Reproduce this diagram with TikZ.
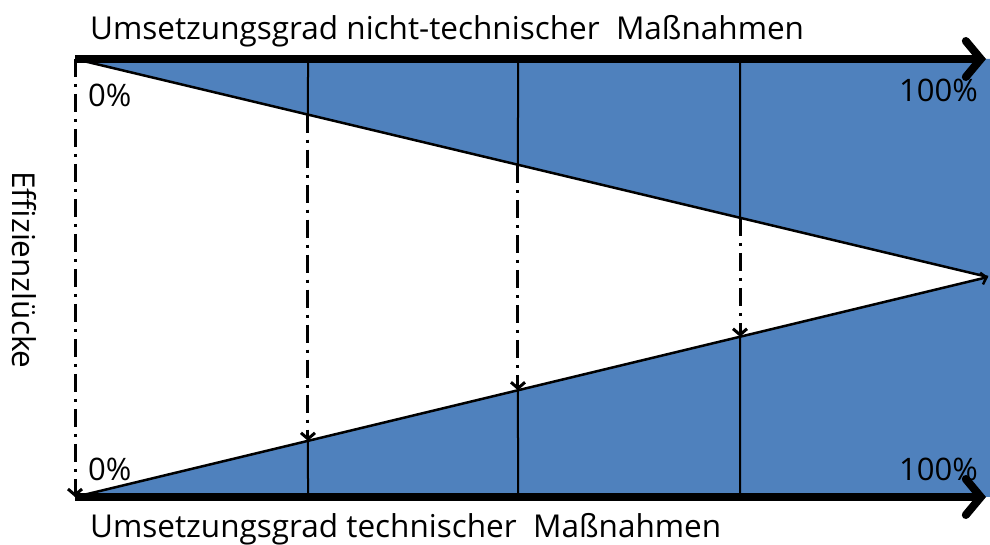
\documentclass[tikz,border=0pt]{standalone}
\usepackage{fontspec}
\setmainfont{Open Sans}
\usetikzlibrary{arrows.meta,calc}
\definecolor{fillblue}{HTML}{4F81BD}
\begin{document}
\begin{tikzpicture}[x=1pt,y=1pt,
  axis/.style={line width=8pt,-{Straight Barb[length=15pt,width=36pt,line cap=round]}},
  diag/.style={line width=2.5pt},
  tick/.style={line width=2pt},
  gap/.style={line width=3pt,dash pattern=on 18pt off 7pt on 3pt off 7pt,-{Straight Barb[length=6pt,width=14pt]}},
  lbl/.style={inner sep=0pt,font=\fontsize{31.5}{35}\selectfont},
  pct/.style={inner sep=0pt,font=\fontsize{31}{35}\selectfont}]
\useasboundingbox (0,0) rectangle (990,545);
% key points
\coordinate (A) at (75,486);
\coordinate (B) at (75,48);
\coordinate (C) at (988,268);
\coordinate (TR) at (990,486);
\coordinate (BR) at (990,48);
\coordinate (TE) at (986,486);
\coordinate (BE) at (986,48);
% fill
\fill[fillblue] (A) -- (TR) -- (BR) -- (B) -- (C) -- cycle;
% points on diagonals
\foreach \n/\x in {1/308,2/518,3/740}{
  \coordinate (T\n) at ($(A)!{(\x-75)/913}!(C)$);
  \coordinate (U\n) at ($(B)!{(\x-75)/913}!(C)$);
  \coordinate (Ttop\n) at (\x,486);
  \coordinate (Ubot\n) at (\x,48);
}
% vertical ticks
\foreach \n in {1,2,3}{
  \draw[tick] (Ttop\n) -- (T\n);
  \draw[tick] (Ubot\n) -- (U\n);
}
% diagonals
\draw[diag] (A) -- (C);
\draw[diag,-{Straight Barb[length=5pt,width=12pt]}] (B) -- (C);
% dash-dot arrows
\foreach \n in {1,2,3}{
  \draw[gap] (T\n) -- (U\n);
}
\draw[gap] (A) -- (B);
% axes
\draw[axis] (A) -- (TE);
\draw[axis] (B) -- (BE);
% texts
\node[lbl,anchor=base west] (t1) at (90,505) {Umsetzungsgrad nicht-technischer\ \ Maßnahmen};
\node[lbl,anchor=base west] (t2) at (90,7) {Umsetzungsgrad technischer\ \ Maßnahmen};
\node[lbl,rotate=-90,anchor=base] (t3) at (13,275) {Effizienzlücke};
\node[pct,anchor=base west] (p1) at (88,438) {0\%};
\node[pct,anchor=base west] (p2) at (88,64) {0\%};
\node[pct,anchor=base east] (p3) at (978,443) {100\%};
\node[pct,anchor=base east] (p4) at (978,64) {100\%};
\end{tikzpicture}
\end{document}
